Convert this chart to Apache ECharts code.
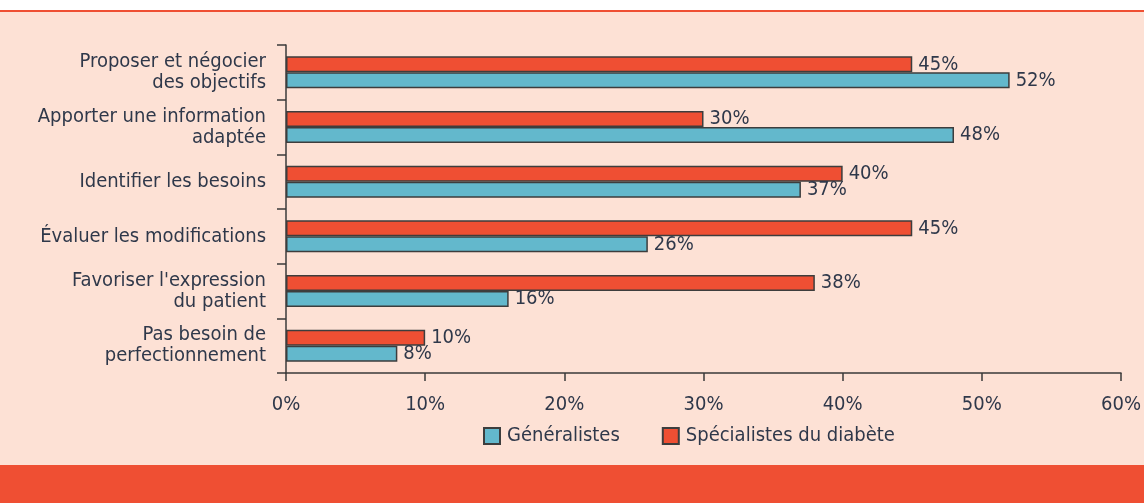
<!DOCTYPE html>
<html>
<head>
<meta charset="utf-8">
<script src="https://cdn.jsdelivr.net/npm/echarts@6/dist/echarts.min.js"></script>
<style>
  html, body { margin: 0; padding: 0; background: #ffffff; }
  .frame { position: relative; width: 1144px; height: 503px; overflow: hidden; background: #ffffff; }
  .panel { position: absolute; left: 0; top: 10px; width: 1144px; height: 455px; background: #fde1d5; border-top: 2px solid #ef4f33; box-sizing: border-box; }
  .footer { position: absolute; left: 0; top: 465px; width: 1144px; height: 38px; background: #ef4f33; }
  #chart { position: absolute; left: 0; top: 0; width: 1144px; height: 503px; }
</style>
</head>
<body>
<div class="frame">
  <div class="panel"></div>
  <div class="footer"></div>
  <div id="chart"></div>
</div>
<script>
const categories = [
  'Proposer et négocier\ndes objectifs',
  'Apporter une information\nadaptée',
  'Identifier les besoins',
  'Évaluer les modifications',
  "Favoriser l'expression\ndu patient",
  'Pas besoin de\nperfectionnement'
];
const generalistes = [52, 48, 37, 26, 16, 8];
const specialistes = [45, 30, 40, 45, 38, 10];
const xTicks = [0, 10, 20, 30, 40, 50, 60];

const font = "'Liberation Sans Narrow', 'DejaVu Sans Condensed', 'Liberation Sans', sans-serif";
const textColor = '#2f384a';
const lineColor = '#3a3a3a';

const chart = echarts.init(document.getElementById('chart'));

// red bar sits above the blue one in each group, so it goes first (y axis is inverted)
chart.setOption({
  backgroundColor: 'transparent',
  animation: false,
  textStyle: { fontFamily: font },
  grid: { left: 286, right: 21, top: 45, bottom: 130, containLabel: false },
  legend: {
    data: ['Généralistes', 'Spécialistes du diabète'],
    top: 421,
    left: 478,
    itemWidth: 16,
    itemHeight: 16,
    itemGap: 42,
    icon: 'rect',
    textStyle: { fontFamily: font, fontSize: 20, color: textColor, padding: [0, 0, 0, 2] }
  },
  xAxis: {
    type: 'value',
    min: xTicks[0],
    max: xTicks[xTicks.length - 1],
    interval: 10,
    splitLine: { show: false },
    axisLine: { show: true, lineStyle: { color: lineColor, width: 1.5 } },
    axisTick: { show: true, length: 8, lineStyle: { color: lineColor, width: 1.5 } },
    axisLabel: { formatter: '{value}%', fontFamily: font, fontSize: 20, color: textColor, margin: 22 }
  },
  yAxis: {
    type: 'category',
    inverse: true,
    data: categories,
    axisLine: { show: true, lineStyle: { color: lineColor, width: 1.5 } },
    axisTick: { show: true, length: 9, lineStyle: { color: lineColor, width: 1.5 } },
    axisLabel: { fontFamily: font, fontSize: 20, lineHeight: 21, color: textColor, margin: 20, align: 'right' }
  },
  series: [
    {
      name: 'Spécialistes du diabète',
      type: 'bar',
      data: specialistes,
      barWidth: 16,
      barGap: '0%',
      itemStyle: { color: '#ef4f33', borderColor: '#3d3d3d', borderWidth: 1.5 },
      label: { show: true, position: 'right', distance: 6, formatter: '{c}%', fontFamily: font, fontSize: 20, color: textColor }
    },
    {
      name: 'Généralistes',
      type: 'bar',
      data: generalistes,
      barWidth: 16,
      barGap: '0%',
      itemStyle: { color: '#63b8cc', borderColor: '#3d3d3d', borderWidth: 1.5 },
      label: { show: true, position: 'right', distance: 6, formatter: '{c}%', fontFamily: font, fontSize: 20, color: textColor }
    }
  ]
});
</script>
</body>
</html>
